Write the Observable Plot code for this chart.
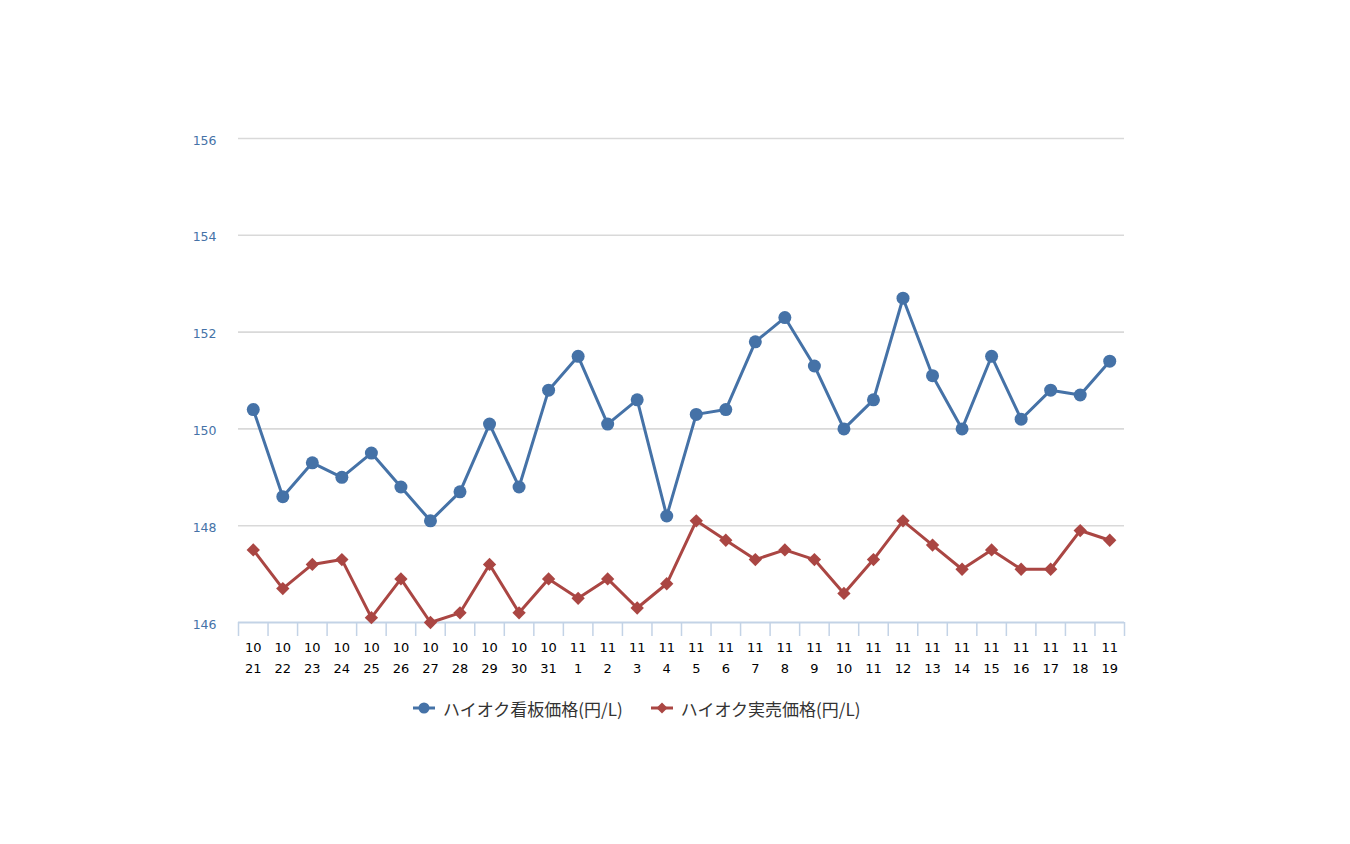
<!DOCTYPE html>
<html><head><meta charset="utf-8">
<script src="https://cdn.jsdelivr.net/npm/d3@7"></script>
<script src="https://cdn.jsdelivr.net/npm/@observablehq/plot@0.6"></script>
<style>
body{margin:0;background:#fff;}
#wrap{position:relative;width:1350px;height:844px;background:#fff;}
#legend{position:absolute;left:413px;top:696px;height:24px;display:flex;align-items:center;font-family:"Noto Sans CJK JP",sans-serif;font-size:17px;color:#333;}
.item{display:flex;align-items:center;margin-right:28px;}
.item svg{margin-right:8px;}
</style></head><body><div id="wrap"><div id="legend"></div></div>
<script>
const dates = ["10/21","10/22","10/23","10/24","10/25","10/26","10/27","10/28","10/29","10/30","10/31",
  "11/1","11/2","11/3","11/4","11/5","11/6","11/7","11/8","11/9","11/10","11/11","11/12","11/13","11/14","11/15","11/16","11/17","11/18","11/19"];
const kanban = [150.4,148.6,149.3,149.0,149.5,148.8,148.1,148.7,150.1,148.8,150.8,
  151.5,150.1,150.6,148.2,150.3,150.4,151.8,152.3,151.3,150.0,150.6,152.7,151.1,150.0,151.5,150.2,150.8,150.7,151.4];
const jitsubai = [147.5,146.7,147.2,147.3,146.1,146.9,146.0,146.2,147.2,146.2,146.9,
  146.5,146.9,146.3,146.8,148.1,147.7,147.3,147.5,147.3,146.6,147.3,148.1,147.6,147.1,147.5,147.1,147.1,147.9,147.7];
const yTicks = [146,148,150,152,154,156];
const seriesNames = ["ハイオク看板価格(円/L)","ハイオク実売価格(円/L)"];
const colors = ["#4572A7","#AA4643"];

const rows = dates.flatMap((d,i)=>[
  {date:d, value:kanban[i], series:seriesNames[0]},
  {date:d, value:jitsubai[i], series:seriesNames[1]}
]);

const W = 1350, mL = 238, mR = 226;
const step = (W - mL - mR) / dates.length;
const axisColor = "#c3d3e6";

const chart = Plot.plot({
  width: W, height: 690,
  marginLeft: mL, marginRight: mR, marginTop: 138, marginBottom: 68,
  x: {type: "point", domain: dates, padding: 0.5, round: false},
  y: {domain: [146, 156]},
  color: {domain: seriesNames, range: colors},
  style: {fontFamily: "'DejaVu Sans', sans-serif", background: "#fff"},
  marks: [
    Plot.gridY(yTicks.filter(t => t > 146), {stroke: "#d9d9d9", strokeOpacity: 1, strokeWidth: 1.6}),
    Plot.axisY(yTicks, {tickSize: 0, tickPadding: 22, dy: 2, fill: "#4572A7", fontSize: 12.5, label: null}),
    Plot.ruleY([146], {stroke: axisColor, strokeWidth: 2}),
    Plot.axisX({tickSize: 14, tickFormat: () => "", dx: -step/2, stroke: axisColor, strokeWidth: 1.5, label: null}),
    Plot.axisX([dates[dates.length-1]], {tickSize: 14, tickFormat: () => "", dx: step/2, stroke: axisColor, strokeWidth: 1.5, label: null}),
    Plot.axisX({tickSize: 0, tickPadding: 15, tickFormat: d => d.replace("/", "\n"), lineHeight: 1.6, fontSize: 13, fill: "#000", label: null}),
    Plot.line(rows, {x: "date", y: "value", z: "series", stroke: "series", strokeWidth: 3}),
    Plot.dot(rows.filter(r => r.series === seriesNames[0]), {x: "date", y: "value", symbol: "circle", r: 6.5, fill: "series"}),
    Plot.dot(rows.filter(r => r.series === seriesNames[1]), {x: "date", y: "value", symbol: "diamond2", r: 6, fill: "series"})
  ]
});
document.getElementById("wrap").prepend(chart);

const legend = document.getElementById("legend");
seriesNames.forEach((name, i) => {
  const item = document.createElement("div");
  item.className = "item";
  const marker = i === 0
    ? `<circle cx="11" cy="8" r="5.5" fill="${colors[i]}"/>`
    : `<path d="M11 2.5 L16.5 8 L11 13.5 L5.5 8 Z" fill="${colors[i]}"/>`;
  item.innerHTML = `<svg width="22" height="16"><line x1="0" y1="8" x2="22" y2="8" stroke="${colors[i]}" stroke-width="3"/>${marker}</svg><span>${name}</span>`;
  legend.appendChild(item);
});
</script></body></html>
